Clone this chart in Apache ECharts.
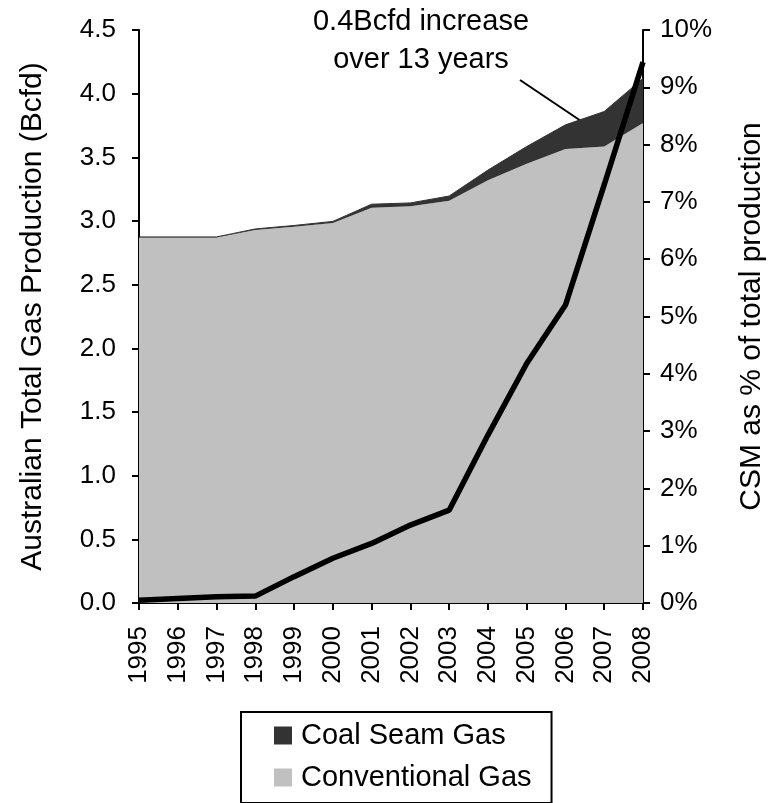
<!DOCTYPE html>
<html>
<head>
<meta charset="utf-8">
<title>Australian gas production</title>
<script src="https://cdn.jsdelivr.net/npm/echarts@6/dist/echarts.min.js"></script>
<style>
	html, body { margin: 0; padding: 0; background: #fff; }
	#chart { width: 775px; height: 803px; }
</style>
</head>
<body>
<div id="chart"></div>
<script>
	// years on the x axis
	var years = ['1995', '1996', '1997', '1998', '1999', '2000', '2001', '2002', '2003', '2004', '2005', '2006', '2007', '2008'];
	// Bcfd
	var conventional = [2.87, 2.87, 2.87, 2.93, 2.955, 2.985, 3.105, 3.115, 3.16, 3.32, 3.45, 3.565, 3.585, 3.77];
	var coalSeam = [0.005, 0.005, 0.005, 0.008, 0.01, 0.012, 0.027, 0.027, 0.036, 0.08, 0.135, 0.19, 0.275, 0.35];
	// CSM as % of total
	var csmShare = [0.05, 0.08, 0.11, 0.12, 0.46, 0.78, 1.04, 1.36, 1.62, 2.93, 4.18, 5.2, 7.3, 9.44];

	var font = 'Liberation Sans, Arial, sans-serif';
	var myChart = echarts.init(document.getElementById('chart'));
	var option = {
		animation: false,
		textStyle: { fontFamily: font },
		grid: {
			left: 139,
			right: 125,
			top: 30,
			bottom: 200
		},
		legend: {
			orient: 'vertical',
			left: 241,
			top: 712,
			padding: [9, 20, 11, 33],
			borderColor: '#000',
			borderWidth: 2,
			itemWidth: 18,
			itemHeight: 18,
			itemGap: 13,
			icon: 'rect',
			textStyle: { color: '#000', fontSize: 29, fontFamily: font, padding: [0, 0, 0, 4] },
			data: ['Coal Seam Gas', 'Conventional Gas']
		},
		xAxis: {
			type: 'category',
			boundaryGap: false,
			data: years,
			axisLine: { lineStyle: { color: '#000', width: 2 } },
			axisTick: { show: true, length: 7, lineStyle: { color: '#000', width: 2 } },
			axisLabel: { rotate: 90, color: '#000', fontSize: 26, margin: 23, fontFamily: font },
			splitLine: { show: false }
		},
		yAxis: [{
			type: 'value',
			min: 0,
			max: 4.5,
			interval: 0.5,
			name: 'Australian Total Gas Production (Bcfd)',
			nameLocation: 'middle',
			nameGap: 91,
			nameTextStyle: { color: '#000', fontSize: 30, fontFamily: font },
			axisLine: { show: true, lineStyle: { color: '#000', width: 2 } },
			axisTick: { show: true, length: 7, lineStyle: { color: '#000', width: 2 } },
			axisLabel: {
				color: '#000', fontSize: 26, margin: 23, fontFamily: font,
				formatter: function (v) { return v.toFixed(1); }
			},
			splitLine: { show: false }
		}, {
			type: 'value',
			min: 0,
			max: 10,
			interval: 1,
			position: 'right',
			name: 'CSM as % of total production',
			nameLocation: 'middle',
			nameGap: 94,
			nameRotate: 90,
			nameTextStyle: { color: '#000', fontSize: 30, fontFamily: font },
			axisLine: { show: true, lineStyle: { color: '#000', width: 2 } },
			axisTick: { show: true, length: 7, lineStyle: { color: '#000', width: 2 } },
			axisLabel: { color: '#000', fontSize: 26, margin: 17, fontFamily: font, formatter: '{value}%' },
			splitLine: { show: false }
		}],
		series: [{
			name: 'Conventional Gas',
			type: 'line',
			stack: 'gas',
			data: conventional,
			showSymbol: false,
			color: '#c0c0c0',
			lineStyle: { width: 0 },
			areaStyle: { color: '#c0c0c0', opacity: 1 },
			z: 1
		}, {
			name: 'Coal Seam Gas',
			type: 'line',
			stack: 'gas',
			data: coalSeam,
			showSymbol: false,
			color: '#333333',
			lineStyle: { width: 1, color: '#333333' },
			areaStyle: { color: '#333333', opacity: 1 },
			z: 1
		}, {
			name: 'CSM share',
			type: 'line',
			yAxisIndex: 1,
			data: csmShare,
			showSymbol: false,
			lineStyle: { color: '#000', width: 5.5 },
			z: 3
		}],
		graphic: [{
			type: 'text',
			x: 421,
			y: 3,
			style: {
				text: '0.4Bcfd increase\nover 13 years',
				font: '29px ' + font,
				fill: '#000',
				align: 'center',
				lineHeight: 38
			}
		}, {
			type: 'line',
			shape: { x1: 520, y1: 80, x2: 584, y2: 123 },
			style: { stroke: '#000', lineWidth: 2 }
		}]
	};
	myChart.setOption(option);
</script>
</body>
</html>
